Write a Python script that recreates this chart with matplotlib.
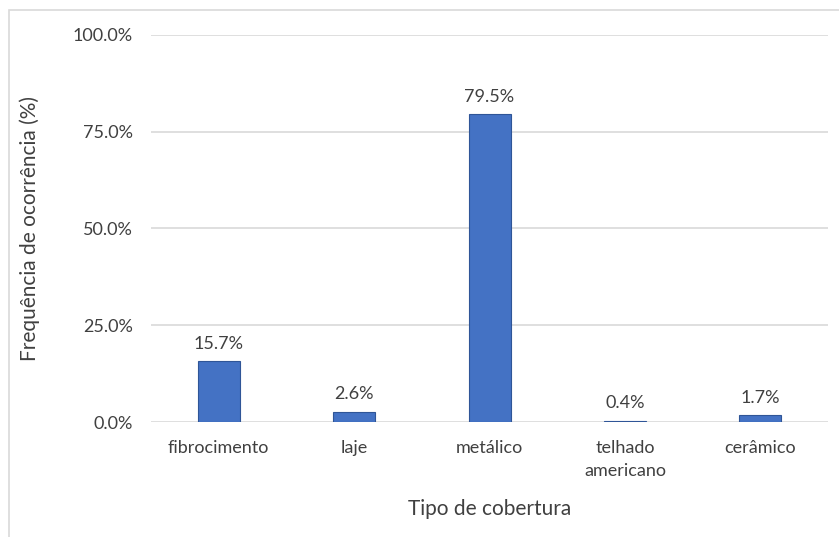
import matplotlib.pyplot as plt
from matplotlib.patches import Rectangle
from matplotlib.ticker import FuncFormatter

categories = ['fibrocimento', 'laje', 'metálico', 'telhado\namericano', 'cerâmico']
values = [15.7, 2.6, 79.5, 0.4, 1.7]
yticks = [0, 25, 50, 75, 100]

plt.rcParams['font.family'] = ['Lato', 'DejaVu Sans']
text_color = '#404040'

fig = plt.figure(figsize=(8.39, 5.37), dpi=100)
ax = fig.add_axes([0.18, 0.214, 0.807, 0.721])

# outer chart border like the Excel frame
fig.patches.append(Rectangle((9 / 839, -0.01), 1.0, 1 - 10 / 537 + 0.01,
                             transform=fig.transFigure, fill=False,
                             edgecolor='#d9d9d9', linewidth=1.2))

x = range(len(categories))
bars = ax.bar(x, values, width=0.31, color='#4472C4', edgecolor='#2F5597',
              linewidth=0.8, zorder=3)

for b, v in zip(bars, values):
    ax.annotate(f'{v:.1f}%', (b.get_x() + b.get_width() / 2, b.get_height()),
                xytext=(0, 7), textcoords='offset points', ha='center',
                va='bottom', fontsize=13, color=text_color)

ax.set_xlim(-0.5, len(categories) - 0.5)
ax.set_ylim(0, 100)
ax.set_yticks(yticks)
ax.yaxis.set_major_formatter(FuncFormatter(lambda v, p: f'{v:.1f}%'))
ax.set_xticks(list(x))
ax.set_xticklabels(categories, linespacing=1.55, va='top')

ax.grid(axis='y', color='#d9d9d9', linewidth=1.2, zorder=0)
for s in ['top', 'right', 'left', 'bottom']:
    ax.spines[s].set_visible(False)
ax.tick_params(axis='both', length=0, labelsize=13, colors=text_color)
ax.tick_params(axis='y', pad=13)
ax.tick_params(axis='x', pad=13)

ax.set_xlabel('Tipo de cobertura', fontsize=15, color=text_color, labelpad=14)
ax.set_ylabel('Frequência de ocorrência (%)', fontsize=15, color=text_color, labelpad=24)

fig.savefig('out.png', dpi=100)
